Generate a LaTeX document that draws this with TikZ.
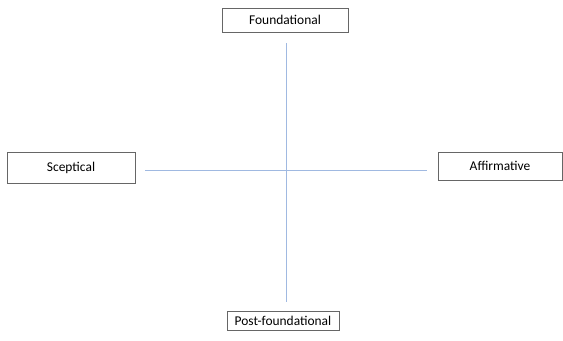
\documentclass[tikz,border=0pt]{standalone}
\usepackage{fontspec}
\setmainfont{Carlito}
\usetikzlibrary{positioning}
\definecolor{axisblue}{RGB}{160,185,225}
\tikzstyle{pole} = [rectangle, draw=gray!80!black, fill=white, text centered, inner sep=0pt, font=\fontsize{13.5}{16}\selectfont]
\tikzstyle{axis} = [draw=axisblue, line width=0.8pt]

\begin{document}
\begin{tikzpicture}[x=1bp, y=1bp]
\useasboundingbox (0,0) rectangle (563,340);

\node (found) [pole, minimum width=126bp, minimum height=24bp] at (285,320) {Foundational};
\node (scept) [pole, minimum width=128bp, minimum height=31bp] at (71,172.5) {Sceptical};
\node (affirm) [pole, minimum width=124bp, minimum height=28bp] at (500,174) {Affirmative};
\node (postf) [pole, minimum width=112bp, minimum height=19bp] at (283,19.5) {Post-foundational};

%axes
\coordinate (top) at (286,297);
\coordinate (bottom) at (286,38);
\coordinate (left) at (145,170);
\coordinate (right) at (427,170);
\draw [axis] (top) -- (bottom);
\draw [axis] (left) -- (right);

\end{tikzpicture}
\end{document}
